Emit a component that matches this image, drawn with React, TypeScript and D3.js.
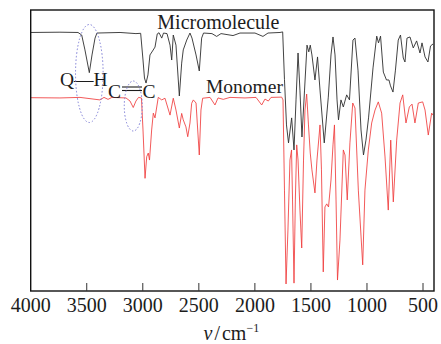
import React, { useEffect } from "react";
import * as d3 from "d3";

// Wavenumber (cm^-1) and relative transmittance (%)
const microWn = [4000, 3739, 3578, 3545, 3516, 3477, 3453, 3426, 3409, 3203, 3061, 3019, 2998, 2985, 2971, 2954, 2936, 2913, 2891, 2871, 2855, 2831, 2815, 2784, 2757, 2742, 2728, 2704, 2674, 2653, 2639, 2608, 2579, 2561, 2525, 2496, 2475, 2458, 2383, 2341, 2302, 2195, 2133, 1999, 1928, 1883, 1776, 1752, 1736, 1718, 1700, 1672, 1651, 1633, 1615, 1598, 1580, 1557, 1535, 1519, 1506, 1491, 1464, 1441, 1419, 1381, 1345, 1321, 1303, 1285, 1267, 1254, 1232, 1211, 1181, 1156, 1125, 1107, 1080, 1053, 1031, 1009, 986, 946, 913, 897, 879, 854, 826, 804, 790, 768, 746, 721, 701, 676, 661, 643, 616, 587, 557, 527, 509, 482, 456, 433, 411];
const microT = [92.0, 92.1, 92.0, 91.1, 85.8, 77.7, 84.0, 90.0, 91.8, 92.0, 91.6, 91.7, 82.2, 75.8, 74.0, 76.9, 84.0, 85.4, 86.8, 91.5, 91.9, 90.0, 91.8, 91.6, 87.5, 82.2, 91.1, 87.5, 69.4, 81.1, 85.8, 89.3, 91.8, 90.0, 84.0, 78.3, 90.0, 91.8, 91.6, 90.6, 91.6, 90.9, 91.8, 91.8, 90.6, 91.8, 92.0, 92.2, 75.2, 59.1, 52.7, 61.6, 50.2, 68.0, 84.7, 71.5, 54.8, 71.5, 87.5, 85.1, 87.5, 84.0, 75.1, 83.3, 71.5, 52.7, 69.0, 84.0, 90.4, 84.0, 68.0, 60.9, 68.0, 65.5, 69.8, 68.0, 89.3, 90.0, 78.6, 57.3, 48.4, 53.7, 61.6, 79.4, 90.7, 88.3, 90.7, 77.9, 75.1, 75.1, 73.0, 70.8, 78.6, 89.3, 91.1, 82.9, 81.5, 90.0, 90.4, 86.5, 89.0, 84.7, 88.3, 83.3, 81.5, 87.2, 87.9];

const monoWn = [4000, 3739, 3560, 3382, 3346, 3310, 3275, 3150, 3114, 3085, 3061, 3038, 3012, 2998, 2980, 2965, 2951, 2940, 2921, 2906, 2891, 2862, 2831, 2802, 2757, 2728, 2704, 2674, 2653, 2639, 2615, 2599, 2579, 2564, 2549, 2525, 2514, 2496, 2481, 2466, 2400, 2356, 2329, 2282, 2222, 2088, 1990, 1939, 1910, 1880, 1856, 1761, 1749, 1736, 1722, 1705, 1687, 1673, 1664, 1651, 1639, 1627, 1615, 1598, 1582, 1566, 1553, 1538, 1522, 1506, 1491, 1464, 1446, 1419, 1406, 1390, 1375, 1359, 1343, 1321, 1303, 1290, 1276, 1263, 1241, 1211, 1196, 1176, 1152, 1127, 1107, 1077, 1038, 1018, 988, 958, 928, 899, 869, 839, 810, 788, 765, 735, 705, 681, 652, 622, 598, 572, 542, 503, 482, 453, 423, 411];
const monoT = [68.8, 68.7, 68.9, 68.0, 68.9, 68.2, 68.9, 68.7, 67.6, 65.3, 67.6, 68.9, 68.7, 57.3, 40.1, 47.8, 49.1, 46.6, 57.3, 63.3, 61.6, 68.9, 68.0, 68.6, 62.6, 68.6, 64.4, 58.0, 63.2, 60.9, 58.4, 54.9, 59.8, 66.8, 68.0, 66.9, 59.8, 48.4, 64.4, 68.6, 68.9, 66.2, 68.7, 68.2, 68.9, 68.7, 68.9, 66.2, 68.3, 67.6, 68.9, 69.0, 68.0, 35.9, 2.5, 21.7, 46.6, 50.2, 32.4, 2.8, 32.4, 52.0, 46.6, 28.8, 15.3, 46.6, 64.4, 70.1, 59.1, 49.1, 43.1, 34.9, 46.6, 59.1, 43.1, 6.8, 29.9, 31.0, 29.9, 39.5, 52.0, 59.1, 32.4, 3.9, 18.1, 50.2, 48.4, 32.4, 52.7, 66.9, 65.1, 35.9, 9.3, 35.9, 50.2, 59.8, 64.4, 67.3, 63.3, 47.7, 28.8, 53.7, 31.7, 53.7, 66.9, 69.8, 59.8, 65.5, 66.5, 59.8, 66.9, 67.3, 64.4, 55.5, 63.3, 62.6];

const xTicks = [4000, 3500, 3000, 2500, 2000, 1500, 1000, 500];
const xDomain = [4000, 402];
const yDomain = [0, 100];

const W = 441;
const H = 344;
const M = { left: 30.7, right: 7, top: 10, bottom: 53 };
const FONT = "'Liberation Serif', 'Times New Roman', serif";
const INK = "#1c1c1c";

export default function App() {
  useEffect(() => {
    document.body.style.margin = "0";
  }, []);

  const x = d3.scaleLinear().domain(xDomain).range([M.left, W - M.right]);
  const y = d3.scaleLinear().domain(yDomain).range([H - M.bottom, M.top]);

  const line = d3
    .line<[number, number]>()
    .x((d) => x(d[0]))
    .y((d) => y(d[1]));

  const micro = microWn.map((w, i) => [w, microT[i]] as [number, number]);
  const mono = monoWn.map((w, i) => [w, monoT[i]] as [number, number]);

  const x0 = x(xDomain[0]);
  const x1 = x(xDomain[1]);
  const yb = y(0);
  const yt = y(100);

  return (
    <svg width={W} height={H} style={{ display: "block", position: "absolute", left: 0, top: 0, background: "#fff" }}>
      <path d={line(mono) || ""} fill="none" stroke="#f03c3c" strokeWidth={0.85} />
      <path d={line(micro) || ""} fill="none" stroke="#2e2e2e" strokeWidth={0.9} />

      {/* frame */}
      <rect x={x0} y={yt} width={x1 - x0} height={yb - yt} fill="none" stroke="#111" strokeWidth={1.4} />

      {/* ticks */}
      {xTicks.map((t) => (
        <g key={t}>
          {t !== 4000 && <line x1={x(t)} x2={x(t)} y1={yb} y2={yb - 8} stroke="#333" strokeWidth={1} />}
          <text x={x(t)} y={yb + 20.5} textAnchor="middle" fontFamily={FONT} fontSize={20} fill={INK}>
            {t}
          </text>
        </g>
      ))}

      {/* axis title */}
      <text x={(x0 + x1) / 2 - 1} y={340} textAnchor="middle" fontFamily={FONT} fontSize={20} fill={INK}>
        <tspan fontStyle="italic">ν</tspan>
        <tspan dx={2}>/</tspan>
        <tspan dx={2}>cm</tspan>
        <tspan dy={-8} fontSize={12}>−1</tspan>
      </text>

      {/* annotations */}
      <text x={157.3} y={29.3} fontFamily={FONT} fontSize={20} fill={INK}>Micromolecule</text>
      <text x={206} y={92.7} fontFamily={FONT} fontSize={19.5} fill={INK}>Monomer</text>
      <text x={60} y={86} fontFamily={FONT} fontSize={19.5} fill={INK}>Q—H</text>
      <text x={108} y={97.5} fontFamily={FONT} fontSize={19.5} fill={INK}>C</text>
      <line x1={122} x2={142} y1={87} y2={87} stroke={INK} strokeWidth={1.1} />
      <line x1={122} x2={142} y1={90.5} y2={90.5} stroke={INK} strokeWidth={1.1} />
      <text x={142.5} y={97.5} fontFamily={FONT} fontSize={19.5} fill={INK}>C</text>

      {/* dotted ellipses */}
      <ellipse cx={x(3477)} cy={73.5} rx={13.8} ry={49} fill="none" stroke="#7d7dd6" strokeWidth={1} strokeDasharray="1.5 2" />
      <ellipse cx={x(3085)} cy={106} rx={9} ry={25} fill="none" stroke="#7d7dd6" strokeWidth={1} strokeDasharray="1.5 2" />
    </svg>
  );
}
